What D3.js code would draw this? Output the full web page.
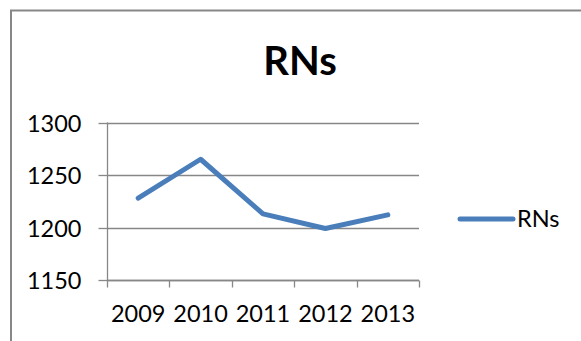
<!DOCTYPE html>
<html><head><meta charset="utf-8">
<script src="https://cdn.jsdelivr.net/npm/d3@7"></script>
<style>body{margin:0;background:#fff}svg{display:block}</style>
</head><body>
<svg id="c" width="581" height="341"></svg>
<script>
const title = "RNs";
const seriesName = "RNs";
const categories = ["2009","2010","2011","2012","2013"];
const values = [1228, 1265, 1213, 1199, 1212];
const yTicks = [1150, 1200, 1250, 1300];

const svg = d3.select("#c");
const font = "Lato, 'Open Sans', sans-serif";
const gray = "#878787";
const blue = "#4a7ebb";

// frame
svg.append("path").attr("d","M11,341V10.5H581").attr("fill","none").attr("stroke",gray).attr("stroke-width",2);

const x = d3.scaleBand().domain(categories).range([107,419]);
const y = d3.scaleLinear().domain([1150,1300]).range([280,122.5]);

// gridlines
svg.append("g").selectAll("line").data(yTicks).join("line")
  .attr("x1",107).attr("x2",419).attr("y1",d=>Math.round(y(d))+0.5).attr("y2",d=>Math.round(y(d))+0.5)
  .attr("stroke",gray).attr("stroke-width",1.3);

// y axis
const ya = svg.append("g").attr("transform","translate(107.5,0)")
  .call(d3.axisLeft(y).tickValues(yTicks).tickSize(9).tickPadding(17).tickFormat(d3.format("d")));
ya.select(".domain").attr("stroke",gray).attr("stroke-width",1.3).attr("d","M0,"+y(1300)+"V"+y(1150));
ya.selectAll(".tick line").attr("stroke",gray).attr("stroke-width",1.3);
ya.selectAll(".tick").attr("transform",d=>"translate(0,"+(Math.round(y(d))+0.5)+")");
ya.selectAll("text").attr("font-family",font).attr("font-size",23.5).attr("fill","#000").attr("dy","0.36em");

// x axis
const xa = svg.append("g").attr("transform","translate(0,280.5)");
xa.append("line").attr("x1",107).attr("x2",419).attr("stroke",gray).attr("stroke-width",1.3);
const edges = categories.map(c=>x(c)).concat([x.range()[1]]);
xa.selectAll(".tk").data(edges).join("line").attr("class","tk")
  .attr("x1",d=>Math.round(d)+0.5).attr("x2",d=>Math.round(d)+0.5).attr("y1",0).attr("y2",7)
  .attr("stroke",gray).attr("stroke-width",1.3);
xa.selectAll("text").data(categories).join("text")
  .attr("x",d=>x(d)+x.bandwidth()/2).attr("y",41.5)
  .attr("text-anchor","middle").attr("font-family",font).attr("font-size",23.5).attr("fill","#000").text(d=>d);

// line
const line = d3.line().x((d,i)=>x(categories[i])+x.bandwidth()/2).y(d=>y(d));
svg.append("path").datum(values).attr("d",line).attr("fill","none")
  .attr("stroke",blue).attr("stroke-width",5).attr("stroke-linecap","round").attr("stroke-linejoin","round");

// title
svg.append("text").attr("x",300).attr("y",75).attr("text-anchor","middle")
  .attr("font-family",font).attr("font-weight","bold").attr("font-size",40).attr("fill","#000").text(title);

// legend
svg.append("line").attr("x1",460).attr("x2",513).attr("y1",219).attr("y2",219)
  .attr("stroke",blue).attr("stroke-width",5).attr("stroke-linecap","round");
svg.append("text").attr("x",517).attr("y",227).attr("font-family",font).attr("font-size",23.5).attr("fill","#000").text(seriesName);
</script>
</body></html>
